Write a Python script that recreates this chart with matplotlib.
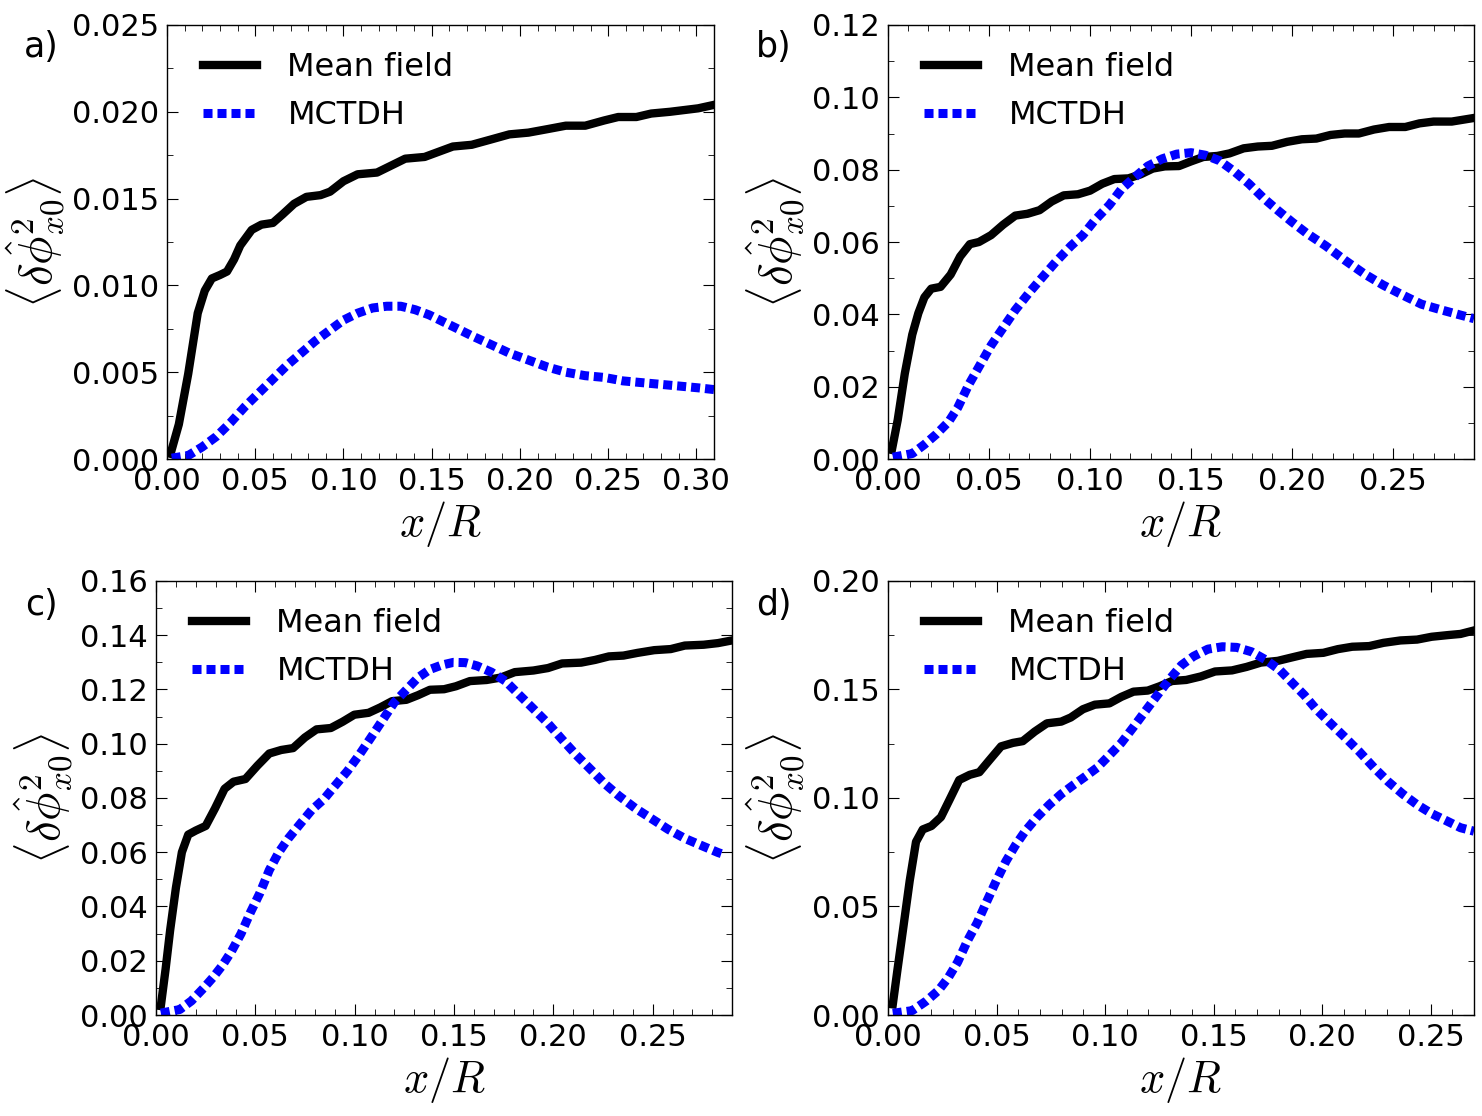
import numpy as np
import matplotlib
matplotlib.use("Agg")
import matplotlib.pyplot as plt
from matplotlib.ticker import MultipleLocator, AutoMinorLocator

# panel a
xa_mf = [0.002, 0.0067, 0.012, 0.0174, 0.0214, 0.0254, 0.030, 0.034, 0.038, 0.0415,
         0.048, 0.0535, 0.060, 0.0656, 0.072, 0.079, 0.087, 0.0924, 0.100, 0.108,
         0.119, 0.127, 0.135, 0.146, 0.154, 0.162, 0.1727, 0.1834, 0.194, 0.2048,
         0.2155, 0.226, 0.237, 0.2477, 0.2557, 0.266, 0.2744, 0.285, 0.293, 0.301, 0.31]
ya_mf = [0.0003, 0.0020, 0.0049, 0.0084, 0.0097, 0.0104, 0.0106, 0.0108, 0.0115, 0.0123,
         0.0132, 0.0135, 0.0136, 0.0141, 0.0147, 0.0151, 0.0152, 0.0154, 0.0160, 0.0164,
         0.0165, 0.0169, 0.0173, 0.0174, 0.0177, 0.0180, 0.0181, 0.0184, 0.0187, 0.0188,
         0.0190, 0.0192, 0.0192, 0.0195, 0.0197, 0.0197, 0.0199, 0.0200, 0.0201, 0.0202, 0.0204]
xa_mc = [0.0027, 0.012, 0.020, 0.028, 0.036, 0.044, 0.052, 0.060, 0.068, 0.076,
         0.084, 0.092, 0.100, 0.108, 0.1165, 0.1245, 0.1325, 0.1406, 0.1486, 0.1566,
         0.1647, 0.1727, 0.1834, 0.194, 0.2048, 0.2155, 0.226, 0.237, 0.2477, 0.2584,
         0.269, 0.2798, 0.2905, 0.301, 0.31]
ya_mc = [0.00005, 0.0002, 0.0007, 0.0013, 0.0021, 0.0030, 0.0038, 0.0046, 0.0054, 0.0061,
         0.0068, 0.0074, 0.0080, 0.0084, 0.0087, 0.0088, 0.0088, 0.0086, 0.0083, 0.0079,
         0.0075, 0.0071, 0.0066, 0.0061, 0.0057, 0.0053, 0.0050, 0.0048, 0.0047, 0.0045,
         0.0044, 0.0043, 0.0042, 0.0041, 0.0040]

# panel b
xb_mf = [0.0019, 0.0048, 0.0083, 0.012, 0.015, 0.018, 0.0214, 0.026, 0.031, 0.0357,
         0.0405, 0.045, 0.051, 0.057, 0.063, 0.069, 0.075, 0.081, 0.087, 0.094,
         0.100, 0.106, 0.112, 0.119, 0.125, 0.131, 0.137, 0.144, 0.150, 0.156,
         0.163, 0.169, 0.176, 0.183, 0.190, 0.1976, 0.2048, 0.212, 0.219, 0.226,
         0.233, 0.2405, 0.248, 0.256, 0.263, 0.270, 0.279, 0.29]
yb_mf = [0.0025, 0.0108, 0.0236, 0.0344, 0.0403, 0.0447, 0.0471, 0.0476, 0.0510, 0.0560,
         0.0594, 0.0600, 0.0619, 0.0648, 0.0673, 0.0678, 0.0688, 0.0712, 0.0729, 0.0732,
         0.0742, 0.0761, 0.0774, 0.0776, 0.0787, 0.0803, 0.0809, 0.0810, 0.0823, 0.0835,
         0.0838, 0.0845, 0.0859, 0.0864, 0.0866, 0.0877, 0.0884, 0.0886, 0.0896, 0.0900,
         0.0900, 0.0911, 0.0918, 0.0918, 0.0928, 0.0933, 0.0933, 0.0943]
xb_mc = [0.0024, 0.012, 0.018, 0.024, 0.030, 0.0345, 0.040, 0.045, 0.051, 0.057,
         0.063, 0.070, 0.076, 0.083, 0.0905, 0.0964, 0.102, 0.1095, 0.1155, 0.1214,
         0.1286, 0.1357, 0.1429, 0.150, 0.157, 0.164, 0.1714, 0.1786, 0.1857, 0.193,
         0.200, 0.207, 0.2167, 0.226, 0.2357, 0.245, 0.2548, 0.264, 0.274, 0.2833, 0.29]
yb_mc = [0.0005, 0.0015, 0.0040, 0.0069, 0.0103, 0.0142, 0.0206, 0.0255, 0.0314, 0.0363,
         0.0412, 0.0461, 0.0500, 0.0545, 0.0589, 0.0619, 0.0658, 0.0702, 0.0746, 0.0776,
         0.0810, 0.0830, 0.0843, 0.0847, 0.0840, 0.0825, 0.0795, 0.0761, 0.0722, 0.0687,
         0.0655, 0.0625, 0.0589, 0.0550, 0.0512, 0.0481, 0.0453, 0.0428, 0.0412, 0.0398, 0.0388]

# panel c
xc_mf = [0.0024, 0.0048, 0.0071, 0.010, 0.013, 0.0162, 0.020, 0.025, 0.0297, 0.0345,
         0.039, 0.045, 0.051, 0.057, 0.063, 0.069, 0.0749, 0.0808, 0.088, 0.0939,
         0.0998, 0.107, 0.1129, 0.1188, 0.126, 0.1319, 0.1379, 0.145, 0.151, 0.158,
         0.1664, 0.1735, 0.1806, 0.190, 0.1973, 0.2044, 0.214, 0.221, 0.228, 0.2353,
         0.2424, 0.2508, 0.2591, 0.2662, 0.2757, 0.2829, 0.29]
yc_mf = [0.0033, 0.0169, 0.0313, 0.0469, 0.0600, 0.0665, 0.0680, 0.0697, 0.0762, 0.0834,
         0.0860, 0.0870, 0.0919, 0.0964, 0.0977, 0.0984, 0.1023, 0.1053, 0.1058, 0.1081,
         0.1107, 0.1114, 0.1134, 0.1157, 0.1162, 0.1179, 0.1199, 0.1201, 0.1212, 0.1231,
         0.1235, 0.1244, 0.1264, 0.1270, 0.1279, 0.1296, 0.1299, 0.1309, 0.1322, 0.1325,
         0.1335, 0.1345, 0.1349, 0.1362, 0.1365, 0.1371, 0.1381]
xc_mc = [0.0024, 0.0119, 0.0178, 0.0238, 0.0285, 0.0333, 0.038, 0.0428, 0.0475, 0.0523,
         0.057, 0.0618, 0.0666, 0.0725, 0.0784, 0.0844, 0.0903, 0.0963, 0.1022, 0.1082,
         0.1141, 0.120, 0.126, 0.1319, 0.1379, 0.1438, 0.1497, 0.1557, 0.1616, 0.1688,
         0.1759, 0.183, 0.1902, 0.1973, 0.2044, 0.2116, 0.2187, 0.2258, 0.233, 0.2413,
         0.2496, 0.2579, 0.2662, 0.2745, 0.2829, 0.2865]
yc_mc = [0.0007, 0.0020, 0.0052, 0.0098, 0.0137, 0.0182, 0.0235, 0.0300, 0.0378, 0.0450,
         0.0534, 0.0600, 0.0651, 0.0704, 0.0756, 0.0795, 0.0847, 0.0899, 0.0958, 0.1023,
         0.1088, 0.1153, 0.1199, 0.1244, 0.1274, 0.1290, 0.1300, 0.1299, 0.1287, 0.1264,
         0.1231, 0.1179, 0.1127, 0.1075, 0.1016, 0.0958, 0.0906, 0.0853, 0.0808, 0.0762,
         0.0723, 0.0684, 0.0651, 0.0625, 0.0599, 0.0590]

# panel d
xd_mf = [0.0022, 0.0044, 0.0071, 0.010, 0.0129, 0.016, 0.020, 0.0244, 0.0284, 0.0328,
         0.0377, 0.0421, 0.0466, 0.0521, 0.0576, 0.0621, 0.0676, 0.0732, 0.0798, 0.0842,
         0.0898, 0.0953, 0.102, 0.1075, 0.1131, 0.1197, 0.1252, 0.1308, 0.1374, 0.1441,
         0.1507, 0.1585, 0.1652, 0.1718, 0.1796, 0.1862, 0.1929, 0.2006, 0.2073, 0.2139,
         0.2217, 0.2283, 0.2361, 0.2438, 0.2505, 0.2583, 0.2638, 0.27]
yd_mf = [0.0049, 0.0212, 0.0407, 0.0619, 0.0798, 0.0855, 0.0871, 0.0912, 0.0993, 0.1083,
         0.1107, 0.1119, 0.1173, 0.1238, 0.1254, 0.1262, 0.1306, 0.1344, 0.1352, 0.1371,
         0.1409, 0.1430, 0.1436, 0.1466, 0.1490, 0.1495, 0.1515, 0.1539, 0.1544, 0.1560,
         0.1583, 0.1588, 0.1604, 0.1624, 0.1632, 0.1648, 0.1664, 0.1669, 0.1686, 0.1697,
         0.1700, 0.1715, 0.1726, 0.1730, 0.1743, 0.1751, 0.1756, 0.1772]
xd_mc = [0.0022, 0.0111, 0.0177, 0.0233, 0.0277, 0.0321, 0.0366, 0.041, 0.0454, 0.0499,
         0.0543, 0.0587, 0.0632, 0.0687, 0.0743, 0.0798, 0.0853, 0.0909, 0.0964, 0.102,
         0.1075, 0.1131, 0.1186, 0.1241, 0.1297, 0.1352, 0.1408, 0.1474, 0.1541, 0.1607,
         0.1674, 0.174, 0.1807, 0.1862, 0.1918, 0.1973, 0.2039, 0.2106, 0.2172, 0.2239,
         0.2305, 0.2372, 0.2438, 0.2505, 0.2571, 0.2638, 0.27]
yd_mc = [0.0008, 0.0020, 0.0065, 0.0114, 0.0171, 0.0244, 0.0342, 0.0423, 0.0521, 0.0619,
         0.0708, 0.0782, 0.0847, 0.0912, 0.0969, 0.1018, 0.1059, 0.1099, 0.1140, 0.1197,
         0.1254, 0.1327, 0.1401, 0.1474, 0.1547, 0.1612, 0.1653, 0.1686, 0.1697, 0.1694,
         0.1674, 0.1637, 0.1588, 0.1531, 0.1474, 0.1409, 0.1344, 0.1279, 0.1213, 0.1140,
         0.1075, 0.1018, 0.0969, 0.0928, 0.0896, 0.0863, 0.0847]

panel_labels = ["a)", "b)", "c)", "d)"]
x_limits = [0.31, 0.29, 0.29, 0.27]
y_limits = [0.025, 0.12, 0.16, 0.20]
y_steps = [0.005, 0.02, 0.02, 0.05]

plt.rcParams.update({
    "font.family": "DejaVu Sans",
    "font.size": 22,
    "mathtext.fontset": "cm",
    "xtick.direction": "in",
    "ytick.direction": "in",
    "xtick.top": True,
    "ytick.right": True,
    "xtick.major.size": 8,
    "ytick.major.size": 8,
    "xtick.minor.size": 4,
    "ytick.minor.size": 4,
    "xtick.major.pad": 6,
    "ytick.major.pad": 6,
    "axes.linewidth": 1.0,
})

W, H = 1482, 1116
fig = plt.figure(figsize=(W / 100, H / 100), dpi=100)
positions = [
    [0.1127, 0.5887, 0.3691, 0.3889],
    [0.5992, 0.5887, 0.3954, 0.3889],
    [0.1053, 0.0905, 0.3887, 0.3889],
    [0.5992, 0.0905, 0.3954, 0.3889],
]
label_pos = [(0.028, 0.958), (0.522, 0.958), (0.028, 0.458), (0.522, 0.458)]

curves = [
    (xa_mf, ya_mf, xa_mc, ya_mc),
    (xb_mf, yb_mf, xb_mc, yb_mc),
    (xc_mf, yc_mf, xc_mc, yc_mc),
    (xd_mf, yd_mf, xd_mc, yd_mc),
]

for i, (xm, ym, xc, yc) in enumerate(curves):
    ax = fig.add_axes(positions[i])
    ax.plot(xm, ym, color="black", lw=6, label="Mean field")
    ax.plot(xc, yc, color="blue", lw=6.5, linestyle=(0, (1.0, 0.55)),
            label="MCTDH")
    ax.set_xlim(0, x_limits[i])
    ax.set_ylim(0, y_limits[i])
    ax.xaxis.set_major_locator(MultipleLocator(0.05))
    ax.xaxis.set_minor_locator(AutoMinorLocator(5))
    ax.yaxis.set_major_locator(MultipleLocator(y_steps[i]))
    ax.yaxis.set_minor_locator(AutoMinorLocator(2))
    if i == 0:
        ax.yaxis.set_major_formatter(plt.FormatStrFormatter("%.3f"))
    else:
        ax.yaxis.set_major_formatter(plt.FormatStrFormatter("%.2f"))
    ax.xaxis.set_major_formatter(plt.FormatStrFormatter("%.2f"))
    ax.set_xlabel(r"$x/R$", fontsize=32, labelpad=2)
    ax.set_ylabel(r"$\langle\delta\hat{\phi}^2_{x0}\rangle$", fontsize=34,
                  labelpad=4)
    # legend anchored a fixed pixel offset from the axes' top-left corner
    w_px = positions[i][2] * W
    h_px = positions[i][3] * H
    ax.legend(loc="upper left", frameon=False, fontsize=23, handlelength=1.7,
              handletextpad=0.95, labelspacing=0.53, borderaxespad=0,
              bbox_to_anchor=(23 / w_px, 1 - 14 / h_px))
    fig.text(label_pos[i][0], label_pos[i][1], panel_labels[i], fontsize=25,
             ha="center", va="center")

fig.savefig("out.png", dpi=100)
